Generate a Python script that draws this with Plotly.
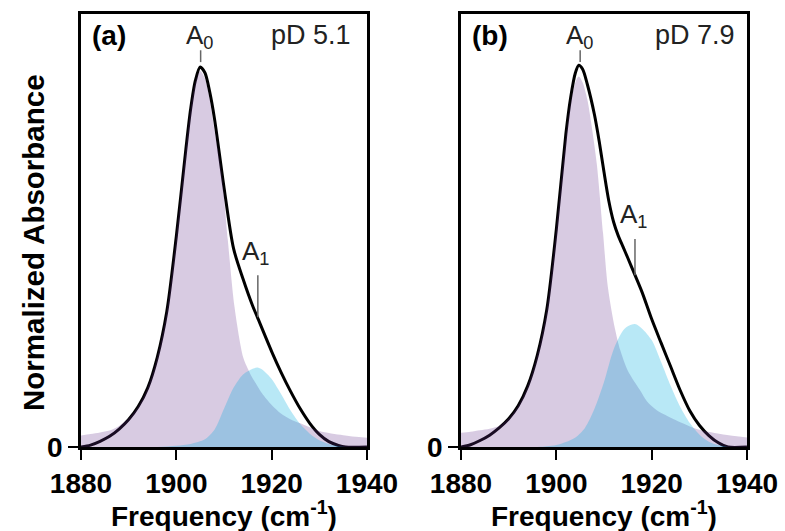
import plotly.graph_objects as go

# ---------------- data ----------------
# Panel (a) pD 5.1 -- measured spectrum (black)
freq_a_total = [1880, 1882, 1884, 1886, 1888, 1890, 1892, 1894, 1896, 1898, 1900, 1902, 1903, 1904, 1905, 1906, 1907,
                1908, 1910, 1912, 1914, 1916, 1917, 1920, 1922, 1924, 1926, 1928, 1930, 1932, 1934, 1935.5, 1940]
abs_a_total = [0.0, 0.005, 0.015, 0.028, 0.047, 0.072, 0.106, 0.155, 0.235, 0.355, 0.552, 0.78, 0.885, 0.96, 0.995,
               0.98, 0.93, 0.86, 0.68, 0.52, 0.44, 0.37, 0.34, 0.25, 0.195, 0.145, 0.10, 0.062, 0.033, 0.014, 0.004,
               0.0, 0.0]
# Panel (a) A0 component (purple)
freq_a_A0 = [1880, 1882, 1884, 1886, 1888, 1890, 1892, 1894, 1896, 1898, 1900, 1902, 1903, 1904, 1905, 1906, 1907,
             1908, 1909.5, 1910.8, 1912.2, 1914, 1915, 1916, 1917, 1918, 1920, 1922, 1924, 1926, 1930, 1935, 1940]
abs_a_A0 = [0.03, 0.034, 0.038, 0.043, 0.055, 0.075, 0.106, 0.155, 0.235, 0.355, 0.552, 0.78, 0.885, 0.955, 0.985,
            0.965, 0.91, 0.83, 0.717, 0.542, 0.367, 0.236, 0.205, 0.18, 0.16, 0.14, 0.11, 0.087, 0.072, 0.062, 0.042,
            0.031, 0.024]
# Panel (a) A1 component (cyan)
freq_a_A1 = [1880, 1896, 1900, 1903, 1906, 1908, 1910, 1912, 1914, 1916, 1917, 1918, 1920, 1922, 1924, 1926, 1928,
             1930, 1932, 1934, 1936, 1940]
abs_a_A1 = [0.0, 0.0, 0.003, 0.008, 0.02, 0.045, 0.10, 0.155, 0.19, 0.205, 0.208, 0.203, 0.178, 0.138, 0.095, 0.06,
            0.035, 0.018, 0.008, 0.002, 0.0, 0.0]

# Panel (b) pD 7.9 -- measured spectrum (black)
freq_b_total = [1880, 1882, 1884, 1886, 1888, 1890, 1892, 1894, 1896, 1898, 1900, 1902, 1903, 1904, 1904.7, 1905.5,
                1906.5, 1908, 1909, 1910, 1911, 1912, 1913, 1914, 1915, 1916, 1918, 1920, 1922, 1924, 1926, 1928, 1930,
                1932, 1934, 1936, 1940]
abs_b_total = [0.0, 0.006, 0.017, 0.031, 0.05, 0.074, 0.108, 0.16, 0.24, 0.36, 0.57, 0.82, 0.915, 0.98, 1.0, 0.99,
               0.95, 0.87, 0.80, 0.72, 0.645, 0.59, 0.553, 0.524, 0.495, 0.465, 0.405, 0.335, 0.272, 0.21, 0.148, 0.095,
               0.057, 0.03, 0.011, 0.0, 0.0]
# Panel (b) A0 component (purple)
freq_b_A0 = [1880, 1882, 1884, 1886, 1888, 1890, 1892, 1894, 1896, 1898, 1900, 1902, 1903, 1904, 1904.7, 1905.5,
             1906.5, 1907.3, 1908.5, 1909.8, 1910.8, 1912.3, 1913.4, 1915, 1917.5, 1919, 1921, 1925, 1930, 1935, 1940]
abs_b_A0 = [0.037, 0.04, 0.044, 0.048, 0.055, 0.075, 0.108, 0.16, 0.24, 0.36, 0.57, 0.81, 0.9, 0.955, 0.97, 0.955,
            0.91, 0.85, 0.74, 0.56, 0.42, 0.31, 0.254, 0.20, 0.15, 0.12, 0.097, 0.071, 0.045, 0.033, 0.025]
# Panel (b) A1 component (cyan)
freq_b_A1 = [1880, 1896, 1898, 1900, 1902, 1904, 1906, 1908, 1910, 1912, 1914, 1915, 1916.5, 1918, 1920, 1922, 1924,
             1926, 1928, 1930, 1932, 1934, 1936, 1940]
abs_b_A1 = [0.0, 0.0, 0.002, 0.005, 0.013, 0.025, 0.05, 0.10, 0.17, 0.255, 0.305, 0.316, 0.322, 0.31, 0.28, 0.222, 0.16,
            0.105, 0.063, 0.033, 0.014, 0.005, 0.0, 0.0]

panel_labels = ["(a)", "(b)"]
pD_labels = ["pD 5.1", "pD 7.9"]
A0_peak = [1905.1, 1905.0]
A1_peak = [1917.1, 1916.5]
A1_curve_level = [0.34, 0.45]
A1_label_offset = [0.17, 0.155]

x_ticks = [1880, 1900, 1920, 1940]
y_ticks = [0]

# ---------------- figure ----------------
FONT = "Liberation Sans, Arial, Helvetica, sans-serif"
BLACK_LINE = dict(color="black", width=3)
PURPLE = "rgba(100,48,140,0.25)"
CYAN = "rgba(0,173,223,0.28)"

fig = go.Figure()

panels = [
    ("x", "y", freq_a_total, abs_a_total, freq_a_A0, abs_a_A0, freq_a_A1, abs_a_A1),
    ("x2", "y2", freq_b_total, abs_b_total, freq_b_A0, abs_b_A0, freq_b_A1, abs_b_A1),
]
for xa, ya, ft, at, f0, a0, f1, a1 in panels:
    fig.add_trace(go.Scatter(x=ft, y=at, mode="lines", line=dict(shape="spline", smoothing=0.8, **BLACK_LINE),
                             xaxis=xa, yaxis=ya, showlegend=False, hoverinfo="skip"))
    fig.add_trace(go.Scatter(x=f0, y=a0, mode="lines", fill="tozeroy", fillcolor=PURPLE,
                             line=dict(shape="spline", smoothing=0.8, width=0, color=PURPLE),
                             xaxis=xa, yaxis=ya, showlegend=False, hoverinfo="skip"))
    fig.add_trace(go.Scatter(x=f1, y=a1, mode="lines", fill="tozeroy", fillcolor=CYAN,
                             line=dict(shape="spline", smoothing=0.8, width=0, color=CYAN),
                             xaxis=xa, yaxis=ya, showlegend=False, hoverinfo="skip"))

W, H = 785, 531
x_dom = [[81 / W, 367 / W], [461 / W, 747 / W]]
y_dom = [(531 - 447) / H, (531 - 14) / H]
YMAX = 1.134

axis_common = dict(showline=True, linecolor="black", linewidth=2.5, mirror=True, showgrid=False, zeroline=False,
                   ticks="outside", ticklen=10, tickwidth=2, tickcolor="black", automargin=False,
                   tickfont=dict(family=FONT, size=28, color="black", weight="bold"))

layout = dict(width=W, height=H, margin=dict(l=0, r=0, t=0, b=0, autoexpand=False), plot_bgcolor="white",
              paper_bgcolor="white", font=dict(family=FONT, color="black"))
for i, (xk, yk) in enumerate([("xaxis", "yaxis"), ("xaxis2", "yaxis2")]):
    layout[xk] = dict(axis_common, domain=x_dom[i], range=[1880, 1940], tickvals=x_ticks,
                      ticktext=[str(t) for t in x_ticks], anchor="y" if i == 0 else "y2")
    layout[yk] = dict(axis_common, domain=y_dom, range=[0, YMAX], tickvals=y_ticks,
                      ticktext=[str(t) for t in y_ticks], anchor="x" if i == 0 else "x2")
fig.update_layout(**layout)

ann = []
shapes = []
for i in range(2):
    xr = "x" if i == 0 else "x2"
    yr = "y" if i == 0 else "y2"
    ann.append(dict(x=1881.9, y=1.078, xref=xr, yref=yr, text="<b>" + panel_labels[i] + "</b>", showarrow=False,
                    xanchor="left", yanchor="middle", font=dict(family=FONT, size=28, color="black")))
    ann.append(dict(x=1937.0 + 0.9 * i, y=1.079, xref=xr, yref=yr, text=pD_labels[i], showarrow=False,
                    xanchor="right", yanchor="middle", font=dict(family=FONT, size=27, color="#222")))
    ann.append(dict(x=A0_peak[i] - 0.2, y=1.075, xref=xr, yref=yr, text="A<sub>0</sub>", showarrow=False,
                    xanchor="center", yanchor="middle", font=dict(family=FONT, size=26, color="#222")))
    ann.append(dict(x=A1_peak[i] - 0.4, y=A1_curve_level[i] + A1_label_offset[i], xref=xr, yref=yr,
                    text="A<sub>1</sub>", showarrow=False, xanchor="center", yanchor="middle",
                    font=dict(family=FONT, size=26, color="#222")))
    shapes.append(dict(type="line", xref=xr, yref=yr, x0=A0_peak[i], x1=A0_peak[i], y0=1.008, y1=1.039,
                       line=dict(color="#666", width=1.5)))
    shapes.append(dict(type="line", xref=xr, yref=yr, x0=A1_peak[i], x1=A1_peak[i], y0=A1_curve_level[i],
                       y1=A1_curve_level[i] + A1_label_offset[i] - 0.06, line=dict(color="#666", width=1.5)))
    ann.append(dict(x=(x_dom[i][0] + x_dom[i][1]) / 2, y=(531 - 514) / H, xref="paper", yref="paper",
                    text="<b>Frequency (cm<sup>-1</sup>)</b>", showarrow=False, xanchor="center", yanchor="middle",
                    font=dict(family=FONT, size=28, color="black")))
ann.append(dict(x=33 / W, y=(531 - 243) / H, xref="paper", yref="paper", text="<b>Normalized Absorbance</b>",
                textangle=-90, showarrow=False, xanchor="center", yanchor="middle",
                font=dict(family=FONT, size=29.5, color="black")))
fig.update_layout(annotations=ann, shapes=shapes)

fig.write_html("out.html", config={"displayModeBar": False},
               post_script="document.body.style.margin='0';document.body.style.overflow='hidden';")
